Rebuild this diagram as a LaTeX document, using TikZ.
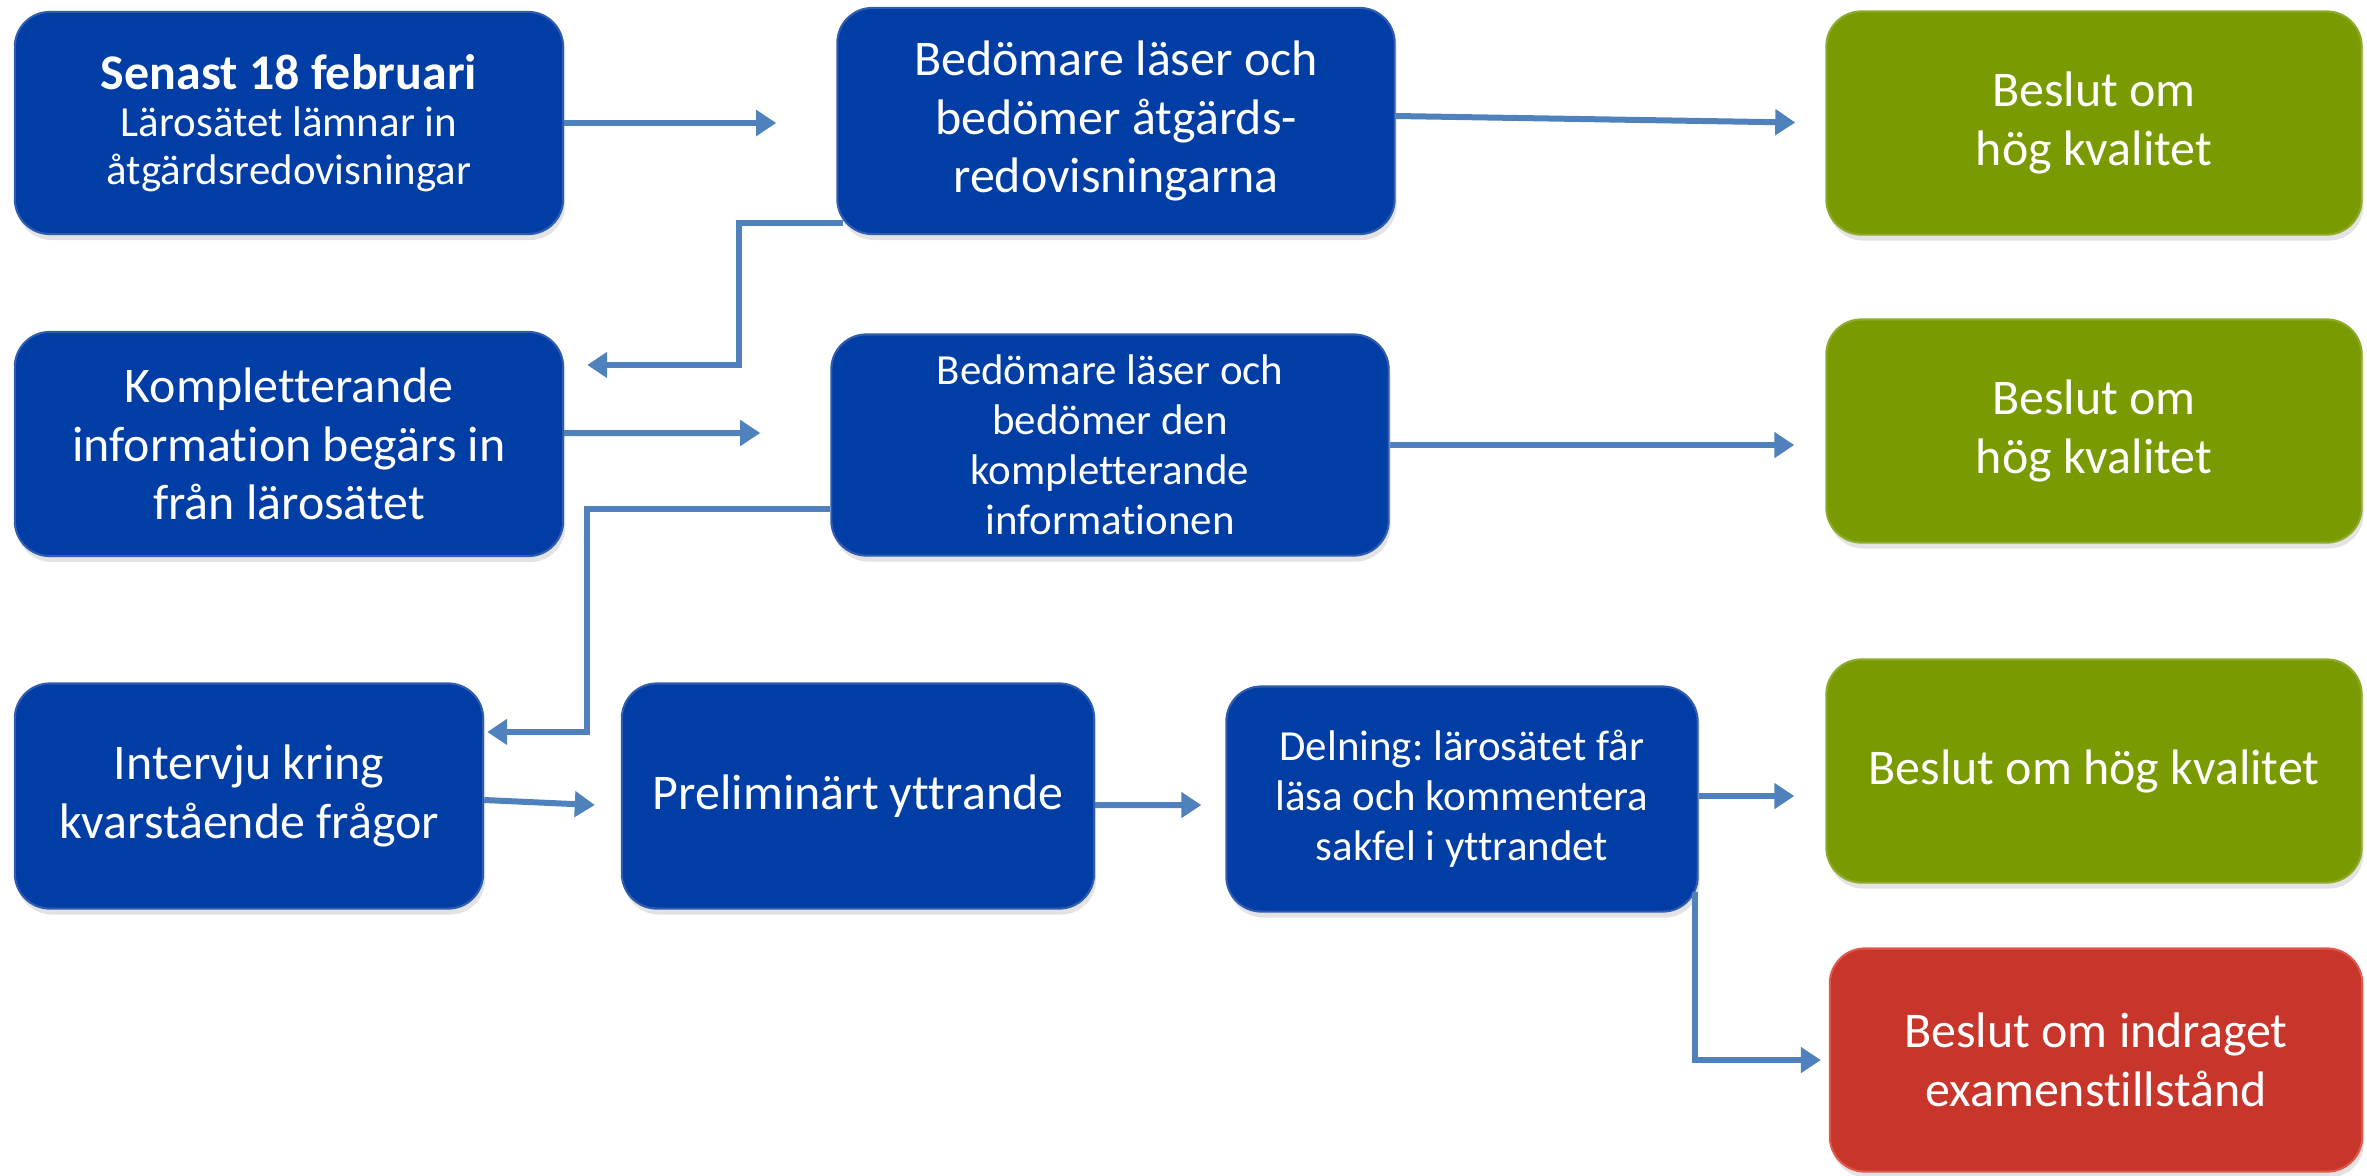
\documentclass[tikz,border=0pt]{standalone}
\usepackage{fontspec}
\setmainfont{Carlito}[Ligatures=CommonOff]
\usetikzlibrary{shadows,arrows.meta}

\definecolor{boxblue}{HTML}{003DA5}
\definecolor{boxblueline}{HTML}{2F5BB0}
\definecolor{boxgreen}{HTML}{7A9A01}
\definecolor{boxgreenline}{HTML}{8DAA2A}
\definecolor{boxred}{HTML}{C7352B}
\definecolor{boxredline}{HTML}{E0574C}
\definecolor{arrowblue}{HTML}{4F81BD}

\begin{document}
\frenchspacing
\begin{tikzpicture}[x=0.01cm,y=-0.01cm]
        \useasboundingbox (0,0) rectangle (2367,1175);

        \tikzstyle{box}=[rectangle,rounded corners=0.35cm,text=white,align=center,inner sep=0pt,line width=0.6pt,
            drop shadow={opacity=0.22,shadow xshift=0.02cm,shadow yshift=-0.06cm}]
        \tikzstyle{blu}=[box,fill=boxblue,draw=boxblueline]
        \tikzstyle{good}=[box,fill=boxgreen,draw=boxgreenline,minimum width=5.35cm,minimum height=2.23cm]
        \tikzstyle{bad}=[box,fill=boxred,draw=boxredline,minimum width=5.32cm,minimum height=2.23cm]
        \tikzstyle{big}=[font=\fontsize{14.2}{16.6}\selectfont]
        \tikzstyle{mid}=[font=\fontsize{12.2}{14.2}\selectfont]
        \tikzstyle{arr}=[-{Triangle[length=0.2cm,width=0.25cm]},draw=arrowblue,line width=0.06cm]

        % left column
        \node [blu,minimum width=5.48cm,minimum height=2.22cm,font=\fontsize{12.2}{13.6}\selectfont] (senast) at (289,123)
            {{\fontsize{14.2}{13.6}\selectfont\bfseries Senast 18 februari}\\Lärosätet lämnar in\\åtgärdsredovisningar};
        \node [blu,big,minimum width=5.48cm,minimum height=2.24cm] (kompl) at (289,444)
            {Kompletterande\\information begärs in\\från lärosätet};
        \node [blu,big,minimum width=4.68cm,minimum height=2.25cm] (intervju) at (249,796)
            {Intervju kring\\kvarstående frågor};

        % middle
        \node [blu,big,minimum width=5.57cm,minimum height=2.26cm] (bed1) at (1116,121)
            {Bedömare läser och\\bedömer åtgärds-\\redovisningarna};
        \node [blu,mid,minimum width=5.57cm,minimum height=2.21cm] (bed2) at (1110,445)
            {Bedömare läser och\\bedömer den\\kompletterande\\informationen};
        \node [blu,big,minimum width=4.72cm,minimum height=2.25cm] (prelim) at (858,796)
            {Preliminärt yttrande};
        \node [blu,mid,minimum width=4.71cm,minimum height=2.25cm] (delning) at (1462,799)
            {Delning: lärosätet får\\läsa och kommentera\\sakfel i yttrandet};

        % decisions
        \node [good,big] (hog1) at (2094,123) {Beslut om\\hög kvalitet};
        \node [good,big] (hog2) at (2094,431) {Beslut om\\hög kvalitet};
        \node [good,big] (hog3) at (2094,771) {Beslut om hög kvalitet};
        \node [bad,big] (indrag) at (2096,1060) {Beslut om indraget\\examenstillstånd};

        \draw[arr, shorten >=0.6cm] (senast.east) -- (senast.east -| bed1.west);   % senast->bed1
        \draw[arr, shorten >=0.3cm] ([yshift=0.05cm]bed1.east) -- (hog1.west);      % bed1->hog1
        \draw[arr] ([shift={(7,-12)}]bed1.south west) -- ++(-104,0)
            |- ([xshift=0.23cm,yshift=0.79cm]kompl.east);                          % bed1->kompl
        \draw[arr, shorten >=0.7cm] ([yshift=0.11cm]kompl.east) -- ([yshift=0.12cm]bed2.west); % kompl->bed2
        \draw[arr, shorten >=0.31cm] (bed2.east) -- (bed2.east -| hog2.west);       % bed2->hog2
        \draw[arr] ([yshift=-0.64cm]bed2.west) -- ++(-243,0)
            |- ([xshift=0.03cm,yshift=0.64cm]intervju.east);                       % bed2->intervju
        \draw[arr] ([yshift=-0.04cm]intervju.east) -- ([xshift=-0.26cm,yshift=-0.09cm]prelim.west); % intervju->prelim
        \draw[arr] ([yshift=-0.09cm]prelim.east) -- ([xshift=-0.24cm,yshift=-0.06cm]delning.west);  % prelim->delning
        \draw[arr, shorten >=0.31cm] ([yshift=0.03cm]delning.east) -- ([yshift=0.03cm]delning.east -| hog3.west); % delning->hog3
        \draw[arr] ([shift={(-4,-21)}]delning.south east) |- ([xshift=-0.08cm]indrag.west);  % delning->indrag

\end{tikzpicture}
\end{document}
